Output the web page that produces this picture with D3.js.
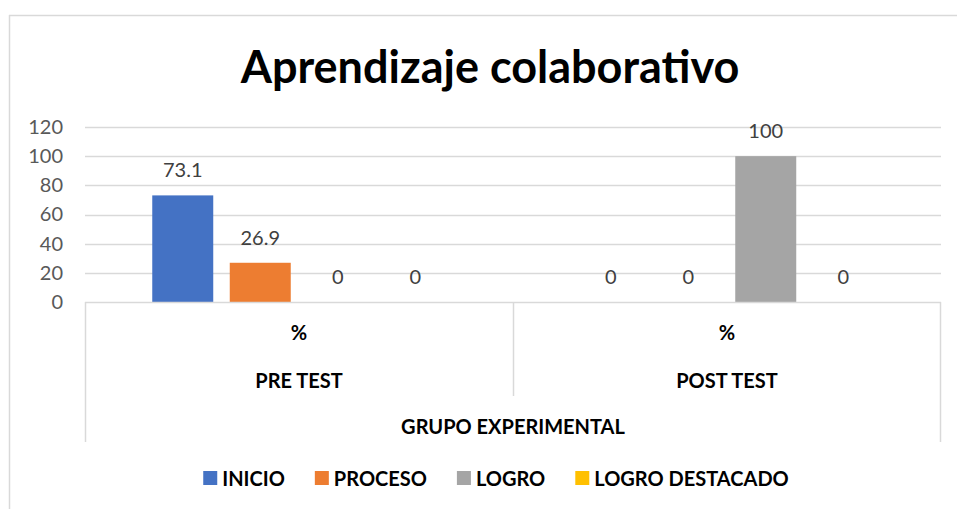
<!DOCTYPE html>
<html>
<head>
<meta charset="utf-8">
<script src="https://cdn.jsdelivr.net/npm/d3@7"></script>
<style>
  body { margin: 0; background: #fff; }
  svg { display: block; }
</style>
</head>
<body>
<div id="chart"></div>
<script>
// data
const phases = ["PRE TEST", "POST TEST"];
const unitLabel = "%";
const groupLabel = "GRUPO EXPERIMENTAL";
const seriesNames = ["INICIO", "PROCESO", "LOGRO", "LOGRO DESTACADO"];
const preTest = [73.1, 26.9, 0, 0];
const postTest = [0, 0, 100, 0];
const yTicks = [0, 20, 40, 60, 80, 100, 120];
const colors = ["#4472C4", "#ED7D31", "#A5A5A5", "#FFC000"];

const rows = phases.map((p, i) => ({ phase: p, values: [preTest, postTest][i] }));

const W = 957, H = 509;
const plot = { left: 85, right: 941, top: 127, bottom: 302 };
const FONT = "Lato, 'Open Sans', sans-serif";

const svg = d3.select("#chart").append("svg")
  .attr("width", W)
  .attr("height", H);

// chart border (top and left visible)
svg.append("line").attr("x1", 9).attr("x2", W).attr("y1", 15.5).attr("y2", 15.5)
  .attr("stroke", "#d9d9d9").attr("stroke-width", 1.5);
svg.append("line").attr("x1", 9.5).attr("x2", 9.5).attr("y1", 15).attr("y2", H)
  .attr("stroke", "#d9d9d9").attr("stroke-width", 1.5);

// title
svg.append("text")
  .attr("x", 490)
  .attr("y", 83)
  .attr("text-anchor", "middle")
  .style("font-family", FONT)
  .style("font-weight", "bold")
  .style("font-size", "45px")
  .style("fill", "#000")
  .text("Aprendizaje colaborativo");

// scales
const y = d3.scaleLinear()
  .domain([0, 120])
  .range([plot.bottom, plot.top]);

const x0 = d3.scaleBand()
  .domain(phases)
  .range([plot.left, plot.right])
  .padding(0);

const inner = 4 * 77.5;
const x1 = d3.scaleBand()
  .domain(seriesNames)
  .range([(x0.bandwidth() - inner) / 2, (x0.bandwidth() + inner) / 2])
  .paddingInner(0.213)
  .paddingOuter(0.1065);

// gridlines
svg.append("g")
  .selectAll("line")
  .data(yTicks.filter(d => d > 0))
  .join("line")
  .attr("x1", plot.left)
  .attr("x2", plot.right)
  .attr("y1", d => Math.round(y(d)) + 0.5)
  .attr("y2", d => Math.round(y(d)) + 0.5)
  .attr("stroke", "#d9d9d9")
  .attr("stroke-width", 1.5);

// y axis labels
const yAxis = svg.append("g")
  .attr("transform", `translate(${plot.left - 20},0)`)
  .call(d3.axisLeft(y).tickValues(yTicks).tickSize(0).tickPadding(2));
yAxis.select(".domain").remove();
yAxis.selectAll(".tick text")
  .style("font-family", FONT)
  .style("font-size", "20px")
  .style("fill", "#595959");

// bars
const groups = svg.append("g")
  .selectAll("g")
  .data(rows)
  .join("g")
  .attr("transform", d => `translate(${x0(d.phase)},0)`);

groups.selectAll("rect")
  .data(d => d.values.map((v, i) => ({ name: seriesNames[i], value: v, color: colors[i] })))
  .join("rect")
  .attr("x", d => x1(d.name))
  .attr("width", x1.bandwidth())
  .attr("y", d => y(d.value))
  .attr("height", d => y(0) - y(d.value))
  .attr("fill", d => d.color);

// data labels
groups.selectAll("text")
  .data(d => d.values.map((v, i) => ({ name: seriesNames[i], value: v })))
  .join("text")
  .attr("x", d => x1(d.name) + x1.bandwidth() / 2)
  .attr("y", d => y(d.value) - 18)
  .attr("text-anchor", "middle")
  .style("font-family", FONT)
  .style("font-size", "20px")
  .style("fill", "#404040")
  .text(d => d.value);

// category axis (multi-level)
const axisG = svg.append("g")
  .attr("stroke", "#d9d9d9")
  .attr("stroke-width", 1.5);
axisG.append("line")
  .attr("x1", plot.left).attr("x2", plot.right)
  .attr("y1", plot.bottom + 0.5).attr("y2", plot.bottom + 0.5);
axisG.append("line")
  .attr("x1", plot.left + 0.5).attr("x2", plot.left + 0.5)
  .attr("y1", plot.bottom).attr("y2", 442);
axisG.append("line")
  .attr("x1", plot.right - 0.5).attr("x2", plot.right - 0.5)
  .attr("y1", plot.bottom).attr("y2", 442);
axisG.append("line")
  .attr("x1", x0(phases[1]) + 0.5).attr("x2", x0(phases[1]) + 0.5)
  .attr("y1", plot.bottom).attr("y2", 396);

const catText = svg.append("g")
  .style("font-family", FONT)
  .style("font-weight", "bold")
  .style("fill", "#000");

catText.selectAll(".unit")
  .data(phases)
  .join("text")
  .attr("class", "unit")
  .attr("x", d => x0(d) + x0.bandwidth() / 2)
  .attr("y", 340)
  .attr("text-anchor", "middle")
  .style("font-size", "20px")
  .text(unitLabel);

catText.selectAll(".phase")
  .data(phases)
  .join("text")
  .attr("class", "phase")
  .attr("x", d => x0(d) + x0.bandwidth() / 2)
  .attr("y", 388)
  .attr("text-anchor", "middle")
  .style("font-size", "20px")
  .text(d => d);

catText.append("text")
  .attr("x", (plot.left + plot.right) / 2)
  .attr("y", 434)
  .attr("text-anchor", "middle")
  .style("font-size", "20px")
  .text(groupLabel);

// legend
const legend = svg.append("g");
const items = legend.selectAll("g")
  .data(seriesNames)
  .join("g");
items.append("rect")
  .attr("width", 14)
  .attr("height", 14)
  .attr("y", 471)
  .attr("fill", (d, i) => colors[i]);
items.append("text")
  .attr("x", 19)
  .attr("y", 486)
  .style("font-family", FONT)
  .style("font-weight", "bold")
  .style("font-size", "20px")
  .style("fill", "#000")
  .text(d => d);

let offs = [];
let cx = 0;
items.each(function () {
  offs.push(cx);
  const w = d3.select(this).select("text").node().getComputedTextLength();
  cx += 19 + w + 30;
});
const total = cx - 30;
const startX = 496 - total / 2;
items.attr("transform", (d, i) => `translate(${startX + offs[i]},0)`);
</script>
</body>
</html>
